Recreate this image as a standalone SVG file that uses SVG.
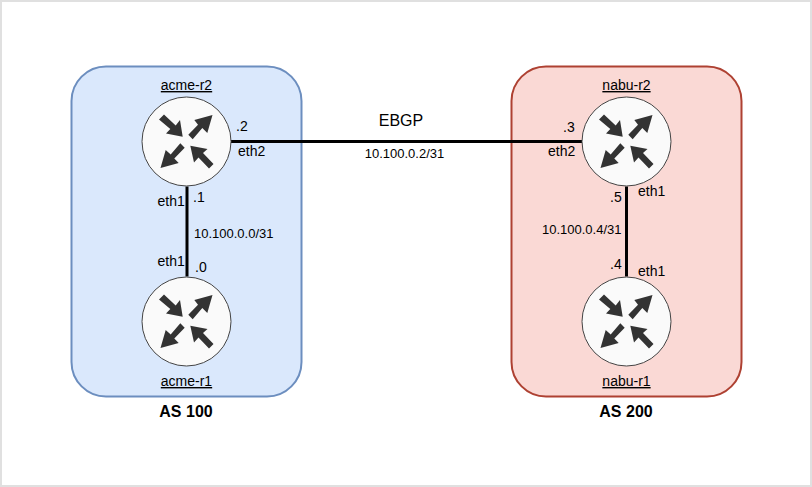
<svg xmlns="http://www.w3.org/2000/svg" width="812" height="487" viewBox="0 0 812 487">
<style>
text{font-family:"Liberation Sans",Arial,sans-serif;font-size:14px;fill:#000}
.s{font-size:13px}
.e{font-size:16px}
.b{font-size:16px;font-weight:bold}
.u{text-decoration:underline}
.m{text-anchor:middle}
.l{fill:none;stroke:#000;stroke-width:3}
.c{fill:#fafafa;stroke:#444;stroke-width:1}
.a{fill:#333}
</style>
<defs>
<g id="router">
<circle class="c" cx="0" cy="0" r="44.5"/>
<path class="a" d="M-27.500-22-22.500-27-10.800-16-6.500-21.500-3.800-4.800-20.500-8-16.200-12.500Z"/>
<path class="a" d="M26-26.500 20.800-8.500 15.800-13.500 6.200-2.200 1.800-6.800 11.500-16.700 7.800-21.500Z"/>
<path class="a" d="M-26 26.500-20.800 8.500-15.800 13 -6.200 1.800-1.800 6.200-12.200 17-7.800 21.500Z"/>
<path class="a" d="M3.800 4.200 21 7.500 16.500 11.500 27 22.500 22.500 27 12 16 7.500 21Z"/>
</g>
</defs>
<rect x="1" y="1" width="810" height="485" fill="#fff" stroke="#e0e0e0" stroke-width="2"/>
<g id="as100"><rect x="71.500" y="66.500" width="230" height="330" rx="34.500" fill="#dae8fc" stroke="#6c8ebf" stroke-width="2"/><text class="b m" x="186" y="417">AS 100</text></g>
<g id="as200"><rect x="511.500" y="66.500" width="230" height="330" rx="34.500" fill="#fad9d5" stroke="#ae4132" stroke-width="2"/><text class="b m" x="626" y="417">AS 200</text></g>
<g id="connectors">
<path class="l" d="M231 141.500H582"/>
<path class="l" d="M187 186.500V276.500"/>
<path class="l" d="M626.500 186.500V276.500"/>
</g>
<g id="acme-r2"><use href="#router" x="186.500" y="141.500"/><text class="u m" x="186.500" y="90">acme-r2</text></g>
<g id="acme-r1"><use href="#router" x="186.500" y="321.500"/><text class="u m" x="186.500" y="386">acme-r1</text></g>
<g id="nabu-r2"><use href="#router" x="626.500" y="141.500"/><text class="u m" x="626.500" y="90">nabu-r2</text></g>
<g id="nabu-r1"><use href="#router" x="626.500" y="321.500"/><text class="u m" x="626.500" y="386">nabu-r1</text></g>
<g id="labels">
<text x="236" y="131">.2</text><text x="238" y="156">eth2</text>
<text x="157.500" y="206">eth1</text><text x="193" y="202">.1</text>
<text x="157.500" y="266">eth1</text><text x="195" y="272">.0</text>
<text class="s" x="194" y="238">10.100.0.0/31</text>
<text class="e m" x="401" y="126">EBGP</text>
<text class="s m" x="404.500" y="157.500">10.100.0.2/31</text>
<text x="563" y="132">.3</text><text x="548" y="156">eth2</text>
<text x="610" y="202">.5</text><text x="638" y="196">eth1</text>
<text x="610" y="269">.4</text><text x="638" y="276">eth1</text>
<text class="s" x="542" y="234">10.100.0.4/31</text>
</g>
</svg>
